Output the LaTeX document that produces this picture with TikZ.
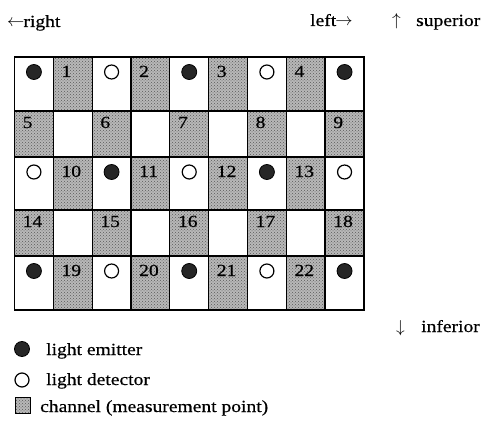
\documentclass[tikz,border=0pt]{standalone}
\usepackage{fontspec}
\setmainfont[FakeStretch=1.15,FakeBold=0.5]{Liberation Serif}
\usetikzlibrary{patterns}
\begin{document}
\begin{tikzpicture}[x=1pt,y=-1pt,
  lbl/.style={font=\fontsize{17}{17}\selectfont, inner sep=0pt, anchor=base west},
  num/.style={font=\fontsize{17}{17}\selectfont, inner sep=0pt, anchor=base west},
  chan/.style={fill=black!28, postaction={pattern=crosshatch dots, pattern color=black!65}},
  emit/.style={circle, fill=black!85, draw=black, line width=0.8pt, minimum size=15pt, inner sep=0pt},
  det/.style={circle, draw=black, line width=1.2pt, fill=white, minimum size=14pt, inner sep=0pt},
  gridline/.style={draw=black, line width=1.3pt}
]
\useasboundingbox (0,0) rectangle (483,423);
\fill[white] (0,0) rectangle (483,423);

% shaded channel cells
\foreach \r/\t/\b in {1/57/111,2/111/157,3/157/210,4/210/256,5/256/310} {
  \foreach \c in {1,...,9} {
    \pgfmathsetmacro\xl{14.5+(\c-1)*38.83}
    \pgfmathsetmacro\xr{\xl+38.83}
    \pgfmathtruncatemacro\oddcell{mod(\r+\c,2)}
    \ifnum\oddcell=1 \fill[chan] (\xl,\t) rectangle (\xr,\b); \fi
  }
}

% grid lines
\foreach \y in {111,157,210,256} \draw[gridline] (14.5,\y) -- (364,\y);
\foreach \c in {1,...,8} {
  \pgfmathsetmacro\xx{14.5+\c*38.83}
  \draw[gridline] (\xx,57) -- (\xx,310);
}
\draw[gridline, line width=1.6pt] (14.5,57) rectangle (364,310);

% channel numbers
\foreach \n/\c/\y in {1/2/77,2/4/77,3/6/77,4/8/77,
                      5/1/128,6/3/128,7/5/128,8/7/128,9/9/128,
                      10/2/177,11/4/177,12/6/177,13/8/177,
                      14/1/227,15/3/227,16/5/227,17/7/227,18/9/227,
                      19/2/276,20/4/276,21/6/276,22/8/276} {
  \pgfmathsetmacro\xl{14.5+(\c-1)*38.83+8}
  \node[num] (n\n) at (\xl,\y) {\n};
}

% emitters and detectors
\foreach \c/\y/\k in {1/72/emit,3/72/det,5/72/emit,7/72/det,9/72/emit,
                      1/172/det,3/172/emit,5/172/det,7/172/emit,9/172/det,
                      1/271/emit,3/271/det,5/271/emit,7/271/det,9/271/emit} {
  \pgfmathsetmacro\xc{14.5+(\c-0.5)*38.83}
  \node[\k] (p\c-\y) at (\xc,\y) {};
}

% direction labels
\node[lbl] (rt) at (7,27) {$\leftarrow$\kern-1pt right};
\node[lbl] (lf) at (310,26) {left\kern-1pt$\rightarrow$};
\node[lbl] (up) at (392,26) {$\uparrow$};
\node[lbl] (sup) at (416,26) {superior};
\node[lbl] (dn) at (396,332) {$\downarrow$};
\node[lbl] (inf) at (421,332) {inferior};

% legend
\node[emit] (le) at (22,349) {};
\node[lbl] (let) at (46,355) {light emitter};
\node[det] (ld) at (22,380) {};
\node[lbl] (ldt) at (46,385) {light detector};
\draw[chan] (15,397) rectangle (30,413);
\draw[line width=0.8pt] (15,397) rectangle (30,413);
\node[lbl] (lct) at (40,412) {channel (measurement point)};
\end{tikzpicture}
\end{document}
